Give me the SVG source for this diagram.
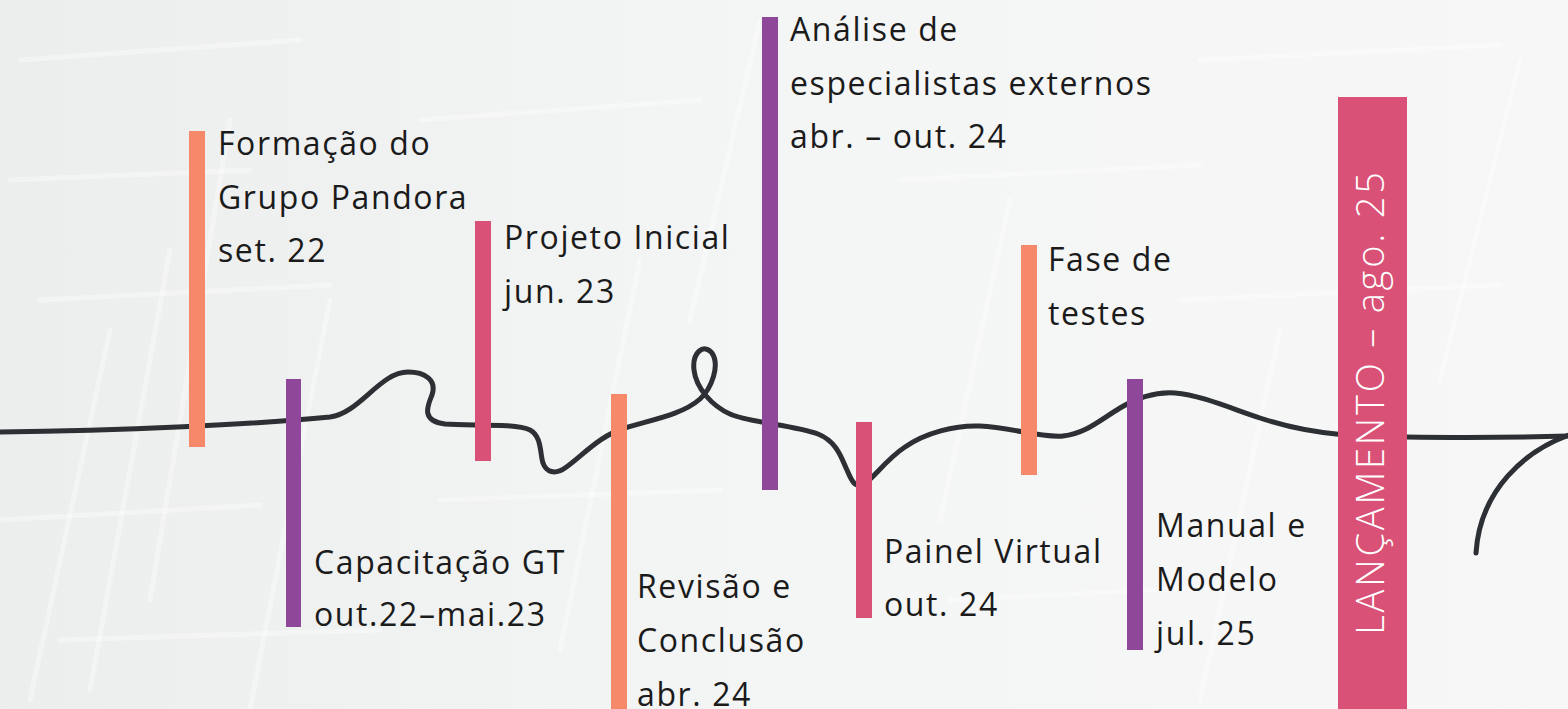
<svg xmlns="http://www.w3.org/2000/svg" width="1568" height="709" viewBox="0 0 1568 709">
<defs>
<linearGradient id="bg" x1="0" y1="0" x2="1" y2="0">
<stop offset="0" stop-color="#ECEDED"/>
<stop offset="0.5" stop-color="#F4F5F5"/>
<stop offset="1" stop-color="#F7F7F7"/>
</linearGradient>
<style>
.lbl{font-family:"Open Sans","Liberation Sans",sans-serif;font-size:32px;letter-spacing:1.6px;fill:#1B1B1B}
.orange{fill:#F5896A}
.pink{fill:#D95176}
.purple{fill:#8E4799}
.line{fill:none;stroke:#2C2F33;stroke-width:5;stroke-linecap:round;stroke-linejoin:round}
.tex{fill:none;stroke:#FFFFFF;stroke-opacity:0.35;stroke-width:5;stroke-linecap:round}
.launch{font-family:"Open Sans","Liberation Sans",sans-serif;font-size:38px;font-weight:300;letter-spacing:2.8px;fill:#FFFFFF}
</style>
</defs>
<rect x="0" y="0" width="1568" height="709" fill="url(#bg)"/>
<g id="texture">
<path class="tex" d="M20 60 L300 40 M10 180 L250 170 M40 300 L330 285 M0 520 L260 505 M60 640 L380 630 M420 120 L700 100 M440 500 L720 490 M900 180 L1200 165 M950 600 L1250 585 M1200 60 L1500 45 M1180 300 L1500 285"/>
<path class="tex" d="M30 700 L110 330 M90 690 L170 250 M150 600 L230 120 M250 709 L330 300 M560 650 L640 260 M690 320 L760 20 M940 520 L1010 200 M1200 700 L1280 330 M1440 380 L1520 60"/>
</g>
<g id="connectors">
<path class="line" d="M-5 432 C120 431 260 424 330 417 C360 413 380 372 408 372 C425 372 437 380 432 395 C428 405 420 421 445 424 C470 426 515 423 530 430 C542 436 540 455 543 463 C546 472 555 475 565 468 C580 458 600 435 625 428 C650 420 682 415 700 399 C712 388 720 365 712 353 C704 343 692 352 694 370 C696 388 712 406 730 414 C750 423 795 425 818 434 C838 442 842 460 847 470 C852 482 855 487 862 485 C870 483 885 460 905 447 C925 433 955 425 980 426 C1010 427 1040 438 1063 436 C1085 434 1100 420 1120 408 C1140 396 1160 392 1175 393 C1200 395 1230 408 1260 418 C1290 428 1320 433 1345 435 C1400 438 1500 438 1572 436"/>
<path class="line" d="M1572 434 C1525 450 1480 490 1476 553"/>
</g>
<g id="node-formacao">
<rect class="orange" x="189" y="131" width="16" height="316"/>
<text class="lbl" x="218" y="155">Formação do</text>
<text class="lbl" x="218" y="209">Grupo Pandora</text>
<text class="lbl" x="218" y="262">set. 22</text>
</g>
<g id="node-capacitacao">
<rect class="purple" x="286" y="379" width="15" height="248"/>
<text class="lbl" x="314" y="574">Capacitação GT</text>
<text class="lbl" x="314" y="626">out.22–mai.23</text>
</g>
<g id="node-projeto">
<rect class="pink" x="475" y="221" width="16" height="240"/>
<text class="lbl" x="504" y="249">Projeto Inicial</text>
<text class="lbl" x="504" y="303">jun. 23</text>
</g>
<g id="node-revisao">
<rect class="orange" x="611" y="394" width="16" height="320"/>
<text class="lbl" x="637" y="598">Revisão e</text>
<text class="lbl" x="637" y="652">Conclusão</text>
<text class="lbl" x="637" y="706">abr. 24</text>
</g>
<g id="node-analise">
<rect class="purple" x="762" y="17" width="16" height="473"/>
<text class="lbl" x="790" y="41">Análise de</text>
<text class="lbl" x="790" y="95">especialistas externos</text>
<text class="lbl" x="790" y="148">abr. – out. 24</text>
</g>
<g id="node-painel">
<rect class="pink" x="856" y="422" width="16" height="196"/>
<text class="lbl" x="884" y="563">Painel Virtual</text>
<text class="lbl" x="884" y="616">out. 24</text>
</g>
<g id="node-testes">
<rect class="orange" x="1021" y="245" width="16" height="230"/>
<text class="lbl" x="1048" y="271">Fase de</text>
<text class="lbl" x="1048" y="325">testes</text>
</g>
<g id="node-manual">
<rect class="purple" x="1127" y="379" width="16" height="271"/>
<text class="lbl" x="1156" y="537">Manual e</text>
<text class="lbl" x="1156" y="591">Modelo</text>
<text class="lbl" x="1156" y="645">jul. 25</text>
</g>
<g id="node-lancamento">
<rect class="pink" x="1338" y="97" width="69" height="620"/>
<text class="launch" transform="translate(1384,402) rotate(-90)" text-anchor="middle">LANÇAMENTO – ago. 25</text>
</g>
</svg>
